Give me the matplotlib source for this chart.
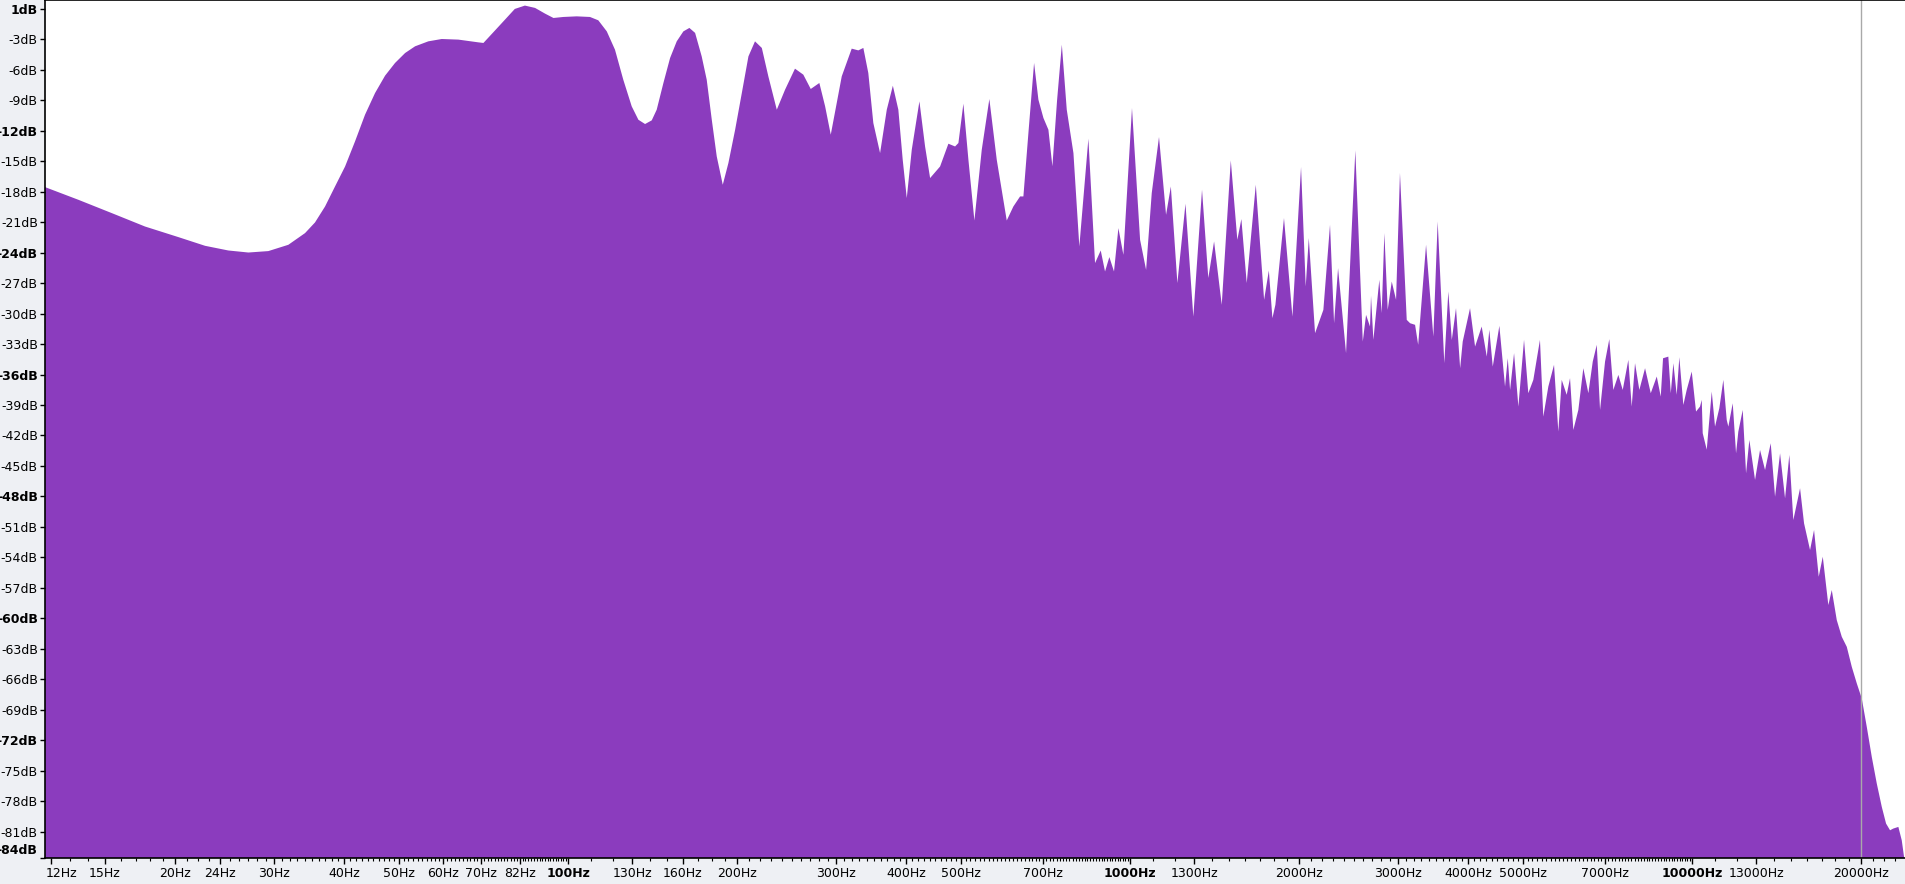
"""Frequency analysis spectrum (Audacity style) redrawn with matplotlib."""
import matplotlib
matplotlib.use("Agg")
import matplotlib.pyplot as plt
import numpy as np

# spectrum: frequency (Hz) and level (dB)
freq_hz = [
    11.73, 13.45, 15.42, 17.67, 20.25, 22.6, 24.86, 26.99, 29.29, 31.79,
    34.04, 35.46, 36.95, 38.49, 40.11, 41.78, 43.53, 45.35, 47.25, 49.22,
    51.29, 53.43, 56.41, 59.6, 63.8, 69.24, 70.7, 74.16, 77.24, 80.4,
    83.8, 87.36, 91.0, 94.2, 98.1, 103.6, 109.4, 113.2, 117.2, 121.2,
    125.4, 129.8, 133.4, 137.1, 140.9, 143.8, 147.8, 151.9, 156.1, 160.4,
    164.4, 168.3, 172.9, 176.5, 180.2, 183.9, 188.5, 192.9, 198.3, 203.8,
    209.4, 215.1, 221.2, 227.2, 235.2, 243.3, 253.4, 262.2, 270.3, 280.0,
    286.7, 293.4, 299.9, 306.9, 319.7, 328.5, 335.3, 342.2, 349.3, 359.1,
    369.1, 378.4, 387.0, 394.0, 400.6, 408.9, 421.9, 431.8, 440.8, 459.2,
    475.1, 488.3, 495.0, 505.2, 515.7, 528.5, 544.7, 561.9, 579.2, 603.4,
    620.0, 637.3, 646.0, 659.4, 674.9, 687.0, 701.3, 715.7, 727.5, 741.6,
    756.2,
    771.6, 793.0, 812.4, 843.1, 866.4, 886.8, 902.6, 918.7, 936.4, 953.4,
    973.1, 1008, 1042, 1068, 1093, 1126, 1159, 1182, 1214, 1255,
    1296, 1343, 1378, 1411, 1456, 1511, 1552, 1578, 1613, 1674,
    1732, 1766, 1792, 1814, 1879, 1945, 2015, 2054, 2080, 2134,
    2208, 2269, 2307, 2345, 2423, 2517, 2595, 2630, 2673, 2684,
    2710, 2777, 2804, 2835, 2874, 2922, 2974, 3022, 3107, 3150,
    3215, 3256, 3363, 3465, 3527, 3624, 3684, 3737, 3802, 3867,
    3908, 4027, 4111, 4224, 4313, 4358, 4420, 4541, 4648, 4700,
    4745, 4823, 4909, 5024, 5113, 5219, 5363, 5437, 5550, 5681,
    5782, 5863, 5984, 6066, 6149, 6276, 6406, 6539, 6658, 6768,
    6860, 7002, 7125, 7244, 7394, 7528, 7703, 7810, 7917, 8058,
    8249, 8444, 8654, 8797, 8880, 9074, 9166, 9264, 9391, 9493,
    9650, 9784, 9988, 10165, 10332, 10406, 10447, 10621, 10841, 10988,
    11183, 11368, 11527, 11604, 11814, 11976, 12089, 12308, 12477, 12647,
    12945, 13213, 13487, 13804, 14051, 14342, 14639, 14898, 15144, 15567,
    15824, 16218, 16486, 16805, 17086, 17480, 17727, 18094, 18469, 18852,
    19242, 19640, 20045, 20461, 20885, 21317, 21759, 22143, 22508, 22815,
    23287, 23614, 23838,
]
level_db = [
    -17.55, -18.8, -20.11, -21.43, -22.47, -23.33, -23.79, -23.99, -23.85, -23.23,
    -22.08, -21.03, -19.46, -17.49, -15.52, -13.05, -10.42, -8.29, -6.58, -5.33,
    -4.35, -3.69, -3.2, -2.97, -3.03, -3.3, -3.36, -2.12, -1.06, -0.01,
    0.32, 0.09, -0.47, -0.9, -0.8, -0.74, -0.8, -1.13, -2.22, -4.02,
    -6.98, -9.6, -10.92, -11.34, -10.98, -9.93, -7.3, -4.84, -3.2, -2.22,
    -1.88, -2.37, -4.68, -6.98, -10.92, -14.53, -17.32, -15.18, -11.9, -8.29,
    -4.68, -3.2, -3.85, -6.65, -9.93, -7.96, -5.89, -6.48, -7.89, -7.3,
    -9.6, -12.39, -9.6, -6.65, -3.92, -4.09, -3.85, -6.32, -11.24, -14.2,
    -9.93, -7.57, -9.93, -14.86, -18.63, -13.87, -9.11, -13.55, -16.66, -15.52,
    -13.28, -13.55, -13.21, -9.34, -14.86, -20.84, -13.87, -8.88, -14.86, -20.84,
    -19.46, -18.47, -18.47, -12.23, -5.33, -8.95, -10.75, -11.9, -15.5, -9.0,
    -3.53,
    -9.93, -14.2, -23.4, -12.79, -25.03, -23.79, -25.86, -24.44, -25.86, -21.59,
    -24.22, -9.77, -22.74, -25.7, -18.14, -12.62, -20.28, -17.49, -27.0, -19.19,
    -30.3, -17.81, -26.5, -22.9, -29.14, -14.92, -22.74, -20.7, -27.0, -17.32,
    -28.65, -25.76, -30.45, -29.14, -20.6, -30.3, -15.58, -27.34, -22.57, -31.93,
    -29.64, -21.26, -30.95, -25.53, -33.9, -13.94, -32.76, -30.13, -31.28, -28.26,
    -32.59, -26.68, -29.96, -22.08, -29.64, -26.85, -28.65, -16.17, -30.62, -30.95,
    -31.11, -33.08, -23.23, -32.27, -20.94, -34.89, -27.83, -32.6, -29.47, -35.38,
    -32.76, -29.47, -33.25, -31.28, -34.24, -31.6, -35.22, -31.21, -37.19, -34.4,
    -37.52, -33.9, -39.16, -32.59, -37.84, -36.53, -32.59, -40.15, -37.19, -35.05,
    -41.62, -36.53, -38.0, -36.36, -41.46, -39.49, -35.38, -37.84, -34.73, -33.08,
    -39.49, -34.73, -32.52, -37.52, -36.04, -37.52, -34.56, -39.16, -34.89, -37.52,
    -35.38, -37.84, -36.2, -38.18, -34.4, -34.24, -37.84, -34.89, -38.0, -34.3,
    -39.0, -37.52, -35.71, -39.65, -39.16, -38.5, -41.78, -43.4, -37.68, -41.13,
    -39.32, -36.53, -40.47, -41.13, -38.83, -43.76, -41.62, -39.49, -45.73, -42.44,
    -46.38, -43.43, -45.4, -42.77, -48.03, -43.76, -48.19, -43.92, -50.33, -47.2,
    -50.65, -53.28, -51.31, -55.91, -53.94, -58.7, -57.22, -60.18, -61.82, -62.81,
    -64.78, -66.41, -67.89, -70.69, -73.65, -76.27, -78.57, -80.21, -80.87, -80.7,
    -80.54, -81.86, -83.5,
]

x_ticks = [12, 15, 20, 24, 30, 40, 50, 60, 70, 82, 100, 130, 160, 200, 300,
           400, 500, 700, 1000, 1300, 2000, 3000, 4000, 5000, 7000, 10000,
           13000, 20000]
x_labels = [f"{t}Hz" for t in x_ticks]
x_bold = [100, 1000, 10000]

y_ticks = [0, -3, -6, -9, -12, -15, -18, -21, -24, -27, -30, -33, -36, -39,
           -42, -45, -48, -51, -54, -57, -60, -63, -66, -69, -72, -75, -78, -81]
y_labels = ["1dB"] + [f"{t}dB" for t in y_ticks[1:]]
y_bold = [0, -12, -24, -36, -48, -60, -72]

F_MIN, F_MAX = 11.73, 23930
DB_TOP, DB_BOTTOM = 0.87, -83.6
PURPLE = "#8b3cbe"
BG = "#eef0f4"
W, H = 1905, 884

plt.rcParams["font.family"] = "DejaVu Sans"
plt.rcParams["font.size"] = 9

fig = plt.figure(figsize=(W / 100, H / 100), dpi=100, facecolor=BG)
ax = fig.add_axes([45 / W, 26 / H, 1860 / W, 858 / H])
ax.set_facecolor("white")

ax.fill_between(freq_hz, level_db, DB_BOTTOM - 10, color=PURPLE, linewidth=0)
ax.axvline(20000, color="#a9a9a9", linewidth=1)

ax.set_xscale("log")
ax.set_xlim(F_MIN, F_MAX)
ax.set_ylim(DB_BOTTOM, DB_TOP)

# minor ticks: every unit step inside each decade
minor = np.concatenate([np.arange(11, 100, 1), np.arange(110, 1000, 10),
                        np.arange(1100, 10000, 100), np.arange(11000, 24000, 1000)])
ax.xaxis.set_major_locator(matplotlib.ticker.FixedLocator(x_ticks))
ax.xaxis.set_minor_locator(matplotlib.ticker.FixedLocator(minor))
ax.xaxis.set_minor_formatter(matplotlib.ticker.NullFormatter())
ax.set_xticklabels(["" if t == 12 else l for t, l in zip(x_ticks, x_labels)])
ax.set_yticks(y_ticks + [DB_BOTTOM])
ax.set_yticklabels(y_labels + [""])

ax.tick_params(axis="x", which="major", length=4, width=1, pad=2.5)
ax.tick_params(axis="x", which="minor", length=2.5, width=0.8)
ax.tick_params(axis="y", length=3.6, width=1, pad=1.6)

for lab, t in zip(ax.get_xticklabels(), x_ticks):
    if t in x_bold:
        lab.set_fontweight("bold")
for lab, t in zip(ax.get_yticklabels(), y_ticks + [DB_BOTTOM]):
    if t in y_bold:
        lab.set_fontweight("bold")

# edge labels that the ruler nudges inside
ax.annotate("-84dB", xy=(0, DB_BOTTOM), xycoords=ax.get_yaxis_transform(),
            xytext=(-7.5, 8), textcoords="offset pixels", ha="right", va="center",
            fontweight="bold", annotation_clip=False)
ax.annotate("12Hz", xy=(12, 0), xycoords=ax.get_xaxis_transform(),
            xytext=(10.5, -15.5), textcoords="offset pixels", ha="center", va="center",
            annotation_clip=False)

for side in ("left", "bottom", "top"):
    ax.spines[side].set_color("black")
    ax.spines[side].set_linewidth(1.2)
ax.spines["right"].set_visible(False)

fig.savefig("out.png", dpi=100, facecolor=BG)
plt.close(fig)
